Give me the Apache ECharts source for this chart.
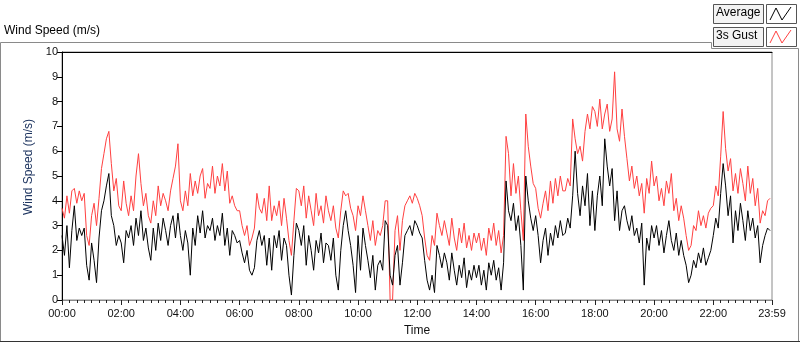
<!DOCTYPE html>
<html>
<head>
<meta charset="utf-8">
<script src="https://cdn.jsdelivr.net/npm/echarts@6/dist/echarts.min.js"></script>
<style>
html, body { margin: 0; padding: 0; background: #fff; }
#chart { width: 800px; height: 342px; }
</style>
</head>
<body>
<div id="chart"></div>
<script>
// one reading every 5 minutes, 00:00 .. 23:55, one row per hour
var stepMinutes = 5;
var seriesNames = ["Average", "3s Gust"];

var avgSpeed = [
    2.6, 1.8, 3.0, 1.3, 2.8, 3.8, 2.4, 2.9, 2.6, 2.9, 1.4, 0.8,
    2.3, 1.6, 0.7, 2.5, 3.6, 4.0, 4.6, 5.1, 3.4, 3.0, 2.2, 2.6,
    2.3, 1.5, 2.8, 2.5, 3.0, 2.2, 3.3, 2.6, 3.6, 2.4, 2.9, 2.1,
    1.6, 2.9, 2.0, 3.1, 2.4, 3.3, 2.8, 2.2, 3.0, 3.4, 2.5, 3.5,
    2.6, 2.0, 2.8, 2.3, 1.0, 2.9, 2.2, 3.4, 2.7, 3.6, 2.5, 3.0,
    2.8, 3.3, 2.4, 3.0, 2.6, 3.5, 2.2, 2.9, 1.8, 2.8, 2.6, 2.3,
    2.4, 1.9, 1.5, 2.0, 1.2, 1.0, 1.3, 2.4, 2.8, 2.2, 2.6, 1.4,
    2.5, 1.2, 2.6, 2.1, 2.8, 1.6, 2.5, 2.2, 1.0, 0.2, 1.8, 3.1,
    2.8, 2.2, 3.0, 1.4, 2.6, 2.0, 1.2, 2.4, 1.9, 2.7, 1.5, 2.3,
    2.2, 1.6, 2.5, 1.0, 0.4, 2.0, 3.0, 3.6, 2.8, 2.2, 1.4, 0.3,
    2.6, 1.2, 2.9, 2.2, 1.6, 0.9, 1.8, 0.4, 1.4, 1.6, 1.2, 3.2,
    3.0, 1.0, 0.6, 1.8, 2.2, 0.6, 1.5, 2.6, 2.8, 3.0, 2.6, 3.2,
    3.0, 2.7, 2.5, 1.6, 0.8, 0.4, 1.0, 0.3, 2.2, 1.8, 1.3, 1.9,
    1.5, 0.8, 1.9, 1.2, 0.6, 1.4, 0.9, 1.7, 0.5, 1.2, 0.8, 1.4,
    0.9, 1.4, 0.6, 1.2, 0.4, 1.5, 1.0, 1.6, 0.8, 1.3, 0.4, 1.5,
    4.8, 3.6, 3.2, 3.9, 2.8, 3.4, 2.2, 0.4, 5.0, 4.0, 3.3, 2.8,
    3.4, 2.6, 1.5, 2.4, 2.9, 1.8, 2.7, 2.2, 3.0, 2.5, 3.2, 2.6,
    2.7, 3.3, 2.9, 4.2, 6.0, 4.3, 3.4, 4.6, 3.8, 5.1, 3.0, 4.4,
    2.8, 4.2, 5.0, 3.8, 6.5, 5.4, 4.6, 5.3, 3.2, 4.4, 2.8, 3.6,
    3.8, 3.2, 2.8, 3.4, 2.6, 2.9, 2.3, 3.1, 0.6, 2.5, 2.0, 3.0,
    2.5, 3.0, 2.2, 2.8, 1.9, 2.6, 3.2, 2.4, 2.0, 2.7, 1.8, 2.4,
    1.8, 1.4, 0.7, 1.0, 1.6, 1.3, 1.9, 1.5, 2.1, 1.4, 1.7, 2.0,
    2.6, 3.3, 2.9, 4.3, 5.5, 4.6, 3.4, 4.2, 2.3, 3.6, 2.8, 3.9,
    3.2, 2.4, 3.6, 2.8, 3.3, 2.5, 3.0, 1.5, 2.2, 2.6, 2.9, 2.8
];

var gustSpeed = [
    3.7, 3.3, 4.2, 3.5, 4.4, 4.5, 3.9, 4.4, 4.0, 4.3, 2.6, 2.2,
    3.4, 3.9, 3.0, 4.1, 5.3, 5.9, 6.5, 6.8, 5.5, 4.4, 4.9, 3.8,
    3.6, 4.8, 3.9, 3.4, 4.2, 3.6, 5.0, 5.9, 4.7, 3.8, 4.3, 3.4,
    3.1, 4.0, 3.4, 4.6, 3.8, 4.3, 4.0, 3.6, 4.4, 4.9, 5.4, 6.3,
    4.0, 3.6, 4.4, 3.8, 5.1, 4.2, 4.8, 4.3, 5.0, 5.3, 4.1, 4.7,
    4.5, 5.4, 4.3, 5.0, 4.6, 5.5, 4.4, 5.2, 3.9, 4.2, 3.8, 3.6,
    3.6, 3.0, 2.6, 3.0, 2.2, 2.5, 2.9, 4.3, 3.7, 3.5, 4.1, 3.2,
    4.6, 3.2, 3.8, 3.4, 4.0, 3.0, 4.1, 3.3, 2.4, 1.8, 3.2, 4.5,
    4.4, 3.8, 4.6, 3.3, 4.2, 3.6, 3.0, 4.3, 3.4, 3.8, 3.1, 4.2,
    3.6, 3.2, 3.8, 2.9, 2.5, 3.6, 4.4, 4.2, 4.3, 3.7, 3.4, 2.8,
    3.8, 3.4, 4.2, 3.6, 3.0, 2.4, 3.2, 2.2, 2.8, 2.6, 3.0, 4.0,
    4.0, 0.0, 0.0, 2.8, 3.4, 2.0, 3.2, 3.8, 4.0, 4.2, 3.9, 4.3,
    4.1, 3.8, 3.4, 2.5, 1.8, 1.6, 2.6, 2.2, 3.5, 3.0, 2.6, 3.2,
    2.7, 2.2, 3.3, 2.5, 2.0, 2.9, 2.3, 3.1, 2.1, 2.6, 2.0, 2.7,
    2.3, 2.7, 2.0, 2.5, 1.8, 2.9, 2.4, 3.1, 2.2, 2.8, 1.9, 2.6,
    6.6, 5.9, 4.2, 5.5, 4.3, 5.0, 3.6, 2.4, 7.5, 6.2, 5.4, 4.7,
    4.5, 3.7, 3.3, 3.9, 4.4, 3.6, 4.8, 3.9, 4.9, 4.2, 5.0, 4.4,
    4.4, 4.9, 4.6, 7.3, 6.5, 5.9, 6.2, 5.6, 6.8, 7.5, 6.9, 7.8,
    7.6, 7.0, 8.1, 6.9, 7.5, 7.9, 6.8, 7.3, 9.2, 6.9, 6.4, 7.7,
    6.6, 5.7, 4.8, 5.4, 4.5, 5.0, 4.2, 4.7, 3.5, 4.9, 4.3, 5.6,
    4.6, 5.0, 4.0, 4.5, 3.8, 4.8, 4.3, 5.1, 3.6, 4.1, 3.2, 3.8,
    3.3, 2.6, 2.0, 2.2, 3.0, 2.8, 3.6, 3.0, 3.4, 2.9, 3.5, 3.7,
    3.8, 4.6, 4.2, 5.8, 7.6, 6.1, 5.2, 5.7, 4.4, 5.1, 4.3, 5.3,
    4.7, 4.0, 5.4, 4.3, 4.9, 3.8, 4.5, 3.1, 3.6, 3.4, 4.0, 4.1
];

var lineColors = ["#000000", "#ff4040"];
var fontName = "Liberation Sans";

function toPairs(values) {
    var out = [];
    for (var i = 0; i < values.length; i++) out.push([i * stepMinutes, values[i]]);
    return out;
}

function fmtTime(m) {
    var h = Math.floor(m / 60), mm = Math.round(m % 60);
    return (h < 10 ? "0" + h : h) + ":" + (mm < 10 ? "0" + mm : mm);
}

// legend drawn LabVIEW style: name box + small plot-sample box
function legendRow(idx, top) {
    return [
        {type: "rect", shape: {x: 713.5, y: top + 0.5, width: 50, height: 19},
            style: {fill: "#f3f3f3", stroke: "#555", lineWidth: 1}},
        {type: "text", left: 716, top: top + 3,
            style: {text: seriesNames[idx], fill: "#000", font: "12px " + fontName}},
        {type: "rect", shape: {x: 766.5, y: top + 0.5, width: 30, height: 19},
            style: {fill: "#fff", stroke: "#555", lineWidth: 1}},
        {type: "polyline", shape: {points: [[770, top + 16], [776, top + 4], [782, top + 16], [791, top + 3]]},
            style: {stroke: lineColors[idx], lineWidth: 1, fill: null}}
    ];
}

var chart = echarts.init(document.getElementById("chart"), null, {renderer: "canvas"});

var option = {
    animation: false,
    backgroundColor: "#fff",
    grid: {left: 62, right: 28, top: 52, bottom: 40, show: true, borderColor: "#8a8a8a", borderWidth: 1, backgroundColor: "#fff"},
    xAxis: [{
        type: "value",
        min: 0,
        max: 1439,
        interval: 120,
        name: "Time",
        nameLocation: "middle",
        nameGap: 25,
        nameTextStyle: {color: "#111", fontSize: 12, fontFamily: fontName},
        axisLine: {show: true, lineStyle: {color: "#8a8a8a"}},
        axisTick: {show: true, length: 5, lineStyle: {color: "#222"}},
        minorTick: {show: true, splitNumber: 8, length: 3, lineStyle: {color: "#222"}},
        splitLine: {show: false},
        axisLabel: {color: "#111", fontSize: 11, fontFamily: fontName, margin: 8, formatter: fmtTime}
    }, {
        type: "value",
        position: "top",
        min: 0,
        max: 1439,
        axisLine: {show: true, lineStyle: {color: "#000"}},
        axisTick: {show: false},
        axisLabel: {show: false},
        splitLine: {show: false}
    }],
    yAxis: {
        type: "value",
        min: 0,
        max: 10,
        interval: 1,
        name: "Wind Speed (m/s)",
        nameLocation: "middle",
        nameGap: 26,
        nameTextStyle: {color: "#1e3560", fontSize: 12, fontFamily: fontName, padding: [0, 0, 0, 18]},
        axisLine: {show: true, lineStyle: {color: "#000"}},
        axisTick: {show: true, length: 5, lineStyle: {color: "#000"}},
        splitLine: {show: false},
        axisLabel: {color: "#111", fontSize: 11, fontFamily: fontName, margin: 4}
    },
    series: [{
        name: seriesNames[1],
        type: "line",
        showSymbol: false,
        data: toPairs(gustSpeed),
        lineStyle: {color: lineColors[1], width: 1},
        itemStyle: {color: lineColors[1]},
        z: 2
    }, {
        name: seriesNames[0],
        type: "line",
        showSymbol: false,
        data: toPairs(avgSpeed),
        lineStyle: {color: lineColors[0], width: 1},
        itemStyle: {color: lineColors[0]},
        z: 3
    }],
    graphic: [
        {type: "polyline", shape: {points: [[0.5, 342], [0.5, 42.5], [711.5, 42.5], [711.5, 48.5], [798.5, 48.5], [798.5, 342]]},
            style: {stroke: "#8a8a8a", lineWidth: 1, fill: null}},
        {type: "line", shape: {x1: 0, y1: 341.5, x2: 800, y2: 341.5}, style: {stroke: "#333", lineWidth: 1}},
        {type: "text", left: 4, top: 25, style: {text: "Wind Speed (m/s)", fill: "#000", font: "12px " + fontName}}
    ].concat(legendRow(0, 4), legendRow(1, 27))
};

chart.setOption(option);
</script>
</body>
</html>
